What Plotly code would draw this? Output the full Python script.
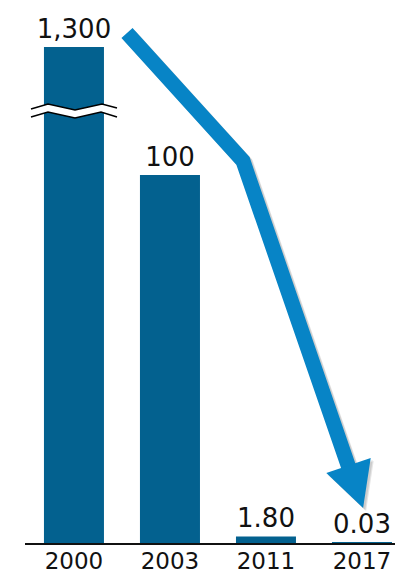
import plotly.graph_objects as go

# ---- data ----
years = ["2000", "2003", "2011", "2017"]
values = [1300, 100, 1.80, 0.03]
value_labels = ["1,300", "100", "1.80", "0.03"]
BREAK_CAP = 134.8  # broken axis: taller bars are cut off at this height

disp_values = [min(v, BREAK_CAP) for v in values]
xpos = list(range(len(years)))

# ---- layout geometry ----
W, H = 395, 576
ML, MR, MT, MB = 25, 0, 20, 33
PW, PH = W - ML - MR, H - MT - MB
XR = [-0.51, 3.344]
YR = [0, 142.12]

def dx(px):  # page pixel -> data x
    return XR[0] + (px - ML) / PW * (XR[1] - XR[0])

def dy(py):  # page pixel -> data y
    return YR[0] + (H - MB - py) / PH * (YR[1] - YR[0])

def path(pts, close=False):
    s = "M " + " L ".join(f"{dx(x):.4f},{dy(y):.4f}" for x, y in pts)
    return s + (" Z" if close else "")

BAR_COLOR = "#03618f"
ARROW_COLOR = "#0784c6"
FONT = "Verdana, DejaVu Sans, sans-serif"

fig = go.Figure()
fig.add_trace(go.Bar(
    x=xpos, y=disp_values, width=0.625,
    marker=dict(color=BAR_COLOR, line=dict(width=0)),
    text=value_labels, textposition="outside", cliponaxis=False,
    constraintext="none",
    textfont=dict(family=FONT, size=26, color="#111111"),
    hoverinfo="skip",
))

shapes = []
# axis break on the first bar
top = [(31, 109), (48, 104), (75, 110), (102, 104), (117, 108)]
bot = [(31, 117), (48, 112), (75, 118), (101, 112), (117, 117)]
shapes.append(dict(type="path", xref="x", yref="y", path=path(top + bot[::-1], True),
                   fillcolor="white", line=dict(width=0)))
for ln in (top, bot):
    shapes.append(dict(type="path", xref="x", yref="y", path=path(ln),
                       line=dict(color="black", width=1.6)))

# trend arrow
shaft = [(127, 33), (243, 161), (349, 468)]
head = [(326.3, 473.1), (370.7, 457.9), (363.1, 508.1)]
off = lambda pts, o: [(x + o, y + o) for x, y in pts]
for o, col in ((3, "rgba(0,0,0,0.10)"), (2, "rgba(0,0,0,0.10)")):
    shapes.append(dict(type="path", xref="x", yref="y", path=path(off(shaft, o)),
                       line=dict(color=col, width=15)))
    shapes.append(dict(type="path", xref="x", yref="y", path=path(off(head, o), True),
                       fillcolor=col, line=dict(width=0)))
shapes.append(dict(type="path", xref="x", yref="y", path=path(shaft),
                   line=dict(color=ARROW_COLOR, width=15)))
shapes.append(dict(type="path", xref="x", yref="y", path=path(head, True),
                   fillcolor=ARROW_COLOR, line=dict(width=0)))

fig.update_layout(
    width=W, height=H,
    margin=dict(l=ML, r=MR, t=MT, b=MB, autoexpand=False),
    paper_bgcolor="white", plot_bgcolor="white",
    showlegend=False,
    shapes=shapes,
    xaxis=dict(range=XR, tickvals=xpos, ticktext=years, showgrid=False,
               zeroline=False, showline=True, linecolor="#111111", linewidth=2,
               ticks="", ticklabelstandoff=-4, automargin=False,
               tickfont=dict(family=FONT, size=23, color="#111111"),
               fixedrange=True),
    yaxis=dict(range=YR, visible=False, fixedrange=True),
)

fig.write_html(
    "out.html",
    config={"displayModeBar": False},
    post_script="document.body.style.margin='0';document.body.style.overflow='hidden';",
)
